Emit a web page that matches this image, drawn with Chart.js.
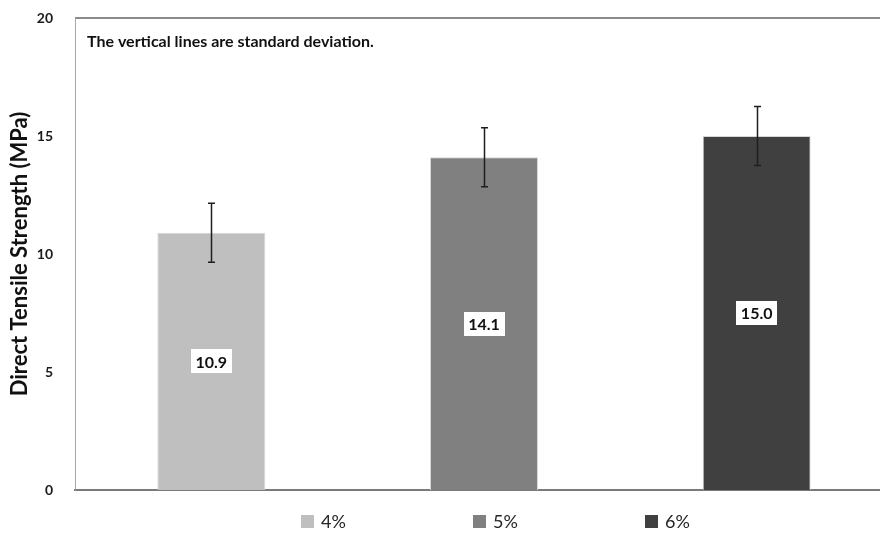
<!DOCTYPE html>
<html>
<head>
<meta charset="utf-8">
<script src="https://cdn.jsdelivr.net/npm/chart.js@4/dist/chart.umd.min.js"></script>
<style>
  html, body { margin: 0; padding: 0; background: #fff; overflow: hidden; }
  #wrap { width: 893px; height: 533px; }
</style>
</head>
<body>
<div id="wrap"><canvas id="c" width="893" height="533"></canvas></div>
<script>
// Fibre content groups, mean direct tensile strength and standard deviation (MPa)
const categories = ['4%', '5%', '6%'];
const strength = [10.9, 14.1, 15.0];
const stdDev = [1.25, 1.25, 1.25];
const yTicks = [0, 5, 10, 15, 20];
const barColors = ['#BFBFBF', '#808080', '#404040'];
const note = 'The vertical lines are standard deviation.';

const FONT = 'Lato, "Open Sans", "DejaVu Sans", sans-serif';

const datasets = categories.map((name, i) => ({
  label: name,
  data: [strength[i]],
  sd: stdDev[i],
  backgroundColor: barColors[i],
  borderColor: '#d6d6d6',
  borderWidth: 1,
  barPercentage: 0.396,
  categoryPercentage: 1.0
}));

// plot frame: top and left edges of the chart area
const framePlugin = {
  id: 'frame',
  beforeDatasetsDraw(chart) {
    const { ctx, chartArea: a } = chart;
    ctx.save();
    ctx.strokeStyle = '#8a8a8a';
    ctx.lineWidth = 2;
    ctx.beginPath();
    ctx.moveTo(a.left, a.top);
    ctx.lineTo(a.right, a.top);
    ctx.stroke();
    ctx.strokeStyle = '#a6a6a6';
    ctx.lineWidth = 1;
    ctx.beginPath();
    ctx.moveTo(a.left + 0.5, a.top);
    ctx.lineTo(a.left + 0.5, a.bottom);
    ctx.stroke();
    ctx.restore();
  }
};

// standard deviation whiskers, value labels, note and legend
const extrasPlugin = {
  id: 'extras',
  afterDatasetsDraw(chart) {
    const { ctx, chartArea: a, scales: { y } } = chart;
    ctx.save();
    chart.data.datasets.forEach((ds, i) => {
      const bar = chart.getDatasetMeta(i).data[0];
      const v = ds.data[0];
      const x = Math.round(bar.x) + 0.5;
      const yHi = y.getPixelForValue(v + ds.sd);
      const yLo = y.getPixelForValue(v - ds.sd);
      ctx.strokeStyle = '#1e1e1e';
      ctx.lineWidth = 1.5;
      ctx.beginPath();
      ctx.moveTo(x, yHi); ctx.lineTo(x, yLo);
      ctx.moveTo(x - 3.5, yHi); ctx.lineTo(x + 3.5, yHi);
      ctx.moveTo(x - 3.5, yLo); ctx.lineTo(x + 3.5, yLo);
      ctx.stroke();

      // value label in a white box at the bar's mid height
      const cy = (bar.y + bar.base) / 2;
      const txt = v.toFixed(1);
      ctx.font = 'bold 16px ' + FONT;
      const w = ctx.measureText(txt).width + 9;
      const h = 24;
      ctx.fillStyle = '#ffffff';
      ctx.fillRect(Math.round(bar.x - w / 2), Math.round(cy - h / 2), Math.round(w), h);
      ctx.fillStyle = '#111111';
      ctx.textAlign = 'center';
      ctx.textBaseline = 'middle';
      ctx.fillText(txt, bar.x, cy + 1);
    });

    // note in the upper left of the plot
    ctx.font = 'bold 16px ' + FONT;
    ctx.fillStyle = '#111111';
    ctx.textAlign = 'left';
    ctx.textBaseline = 'middle';
    ctx.fillText(note, a.left + 12, a.top + 24);

    // legend row under the axis
    const legendY = 522;
    let lx = (a.left + a.right) / 2 - 183;
    ctx.font = '18px ' + FONT;
    chart.data.datasets.forEach((ds) => {
      ctx.fillStyle = ds.backgroundColor;
      ctx.fillRect(lx, legendY - 7, 13, 13);
      ctx.fillStyle = '#262626';
      ctx.fillText(ds.label, lx + 20, legendY);
      lx += 172;
    });
    ctx.restore();
  }
};

new Chart(document.getElementById('c'), {
  type: 'bar',
  data: { labels: [''], datasets },
  options: {
    responsive: false,
    animation: false,
    layout: { padding: { top: 18, right: 0, bottom: 43, left: 0 } },
    plugins: {
      legend: { display: false },
      tooltip: { enabled: false }
    },
    scales: {
      x: {
        grid: { display: false, drawTicks: false },
        ticks: { display: false },
        border: { display: true, color: '#7a7a7a', width: 2 }
      },
      y: {
        min: yTicks[0],
        max: yTicks[yTicks.length - 1],
        afterBuildTicks(scale) { scale.ticks = yTicks.map(v => ({ value: v })); },
        afterFit(scale) {
          scale.width = 75;
          scale.paddingTop = 0;
          scale.paddingBottom = 0;
        },
        grid: { display: false, drawTicks: false },
        border: { display: false },
        ticks: {
          padding: 22,
          color: '#1a1a1a',
          font: { family: FONT, size: 14, weight: 'bold' }
        },
        title: {
          display: true,
          text: 'Direct Tensile Strength (MPa)',
          color: '#111111',
          font: { family: FONT, size: 22, weight: 'bold' },
          padding: { top: 7, bottom: 0 }
        }
      }
    }
  },
  plugins: [framePlugin, extrasPlugin]
});
</script>
</body>
</html>
